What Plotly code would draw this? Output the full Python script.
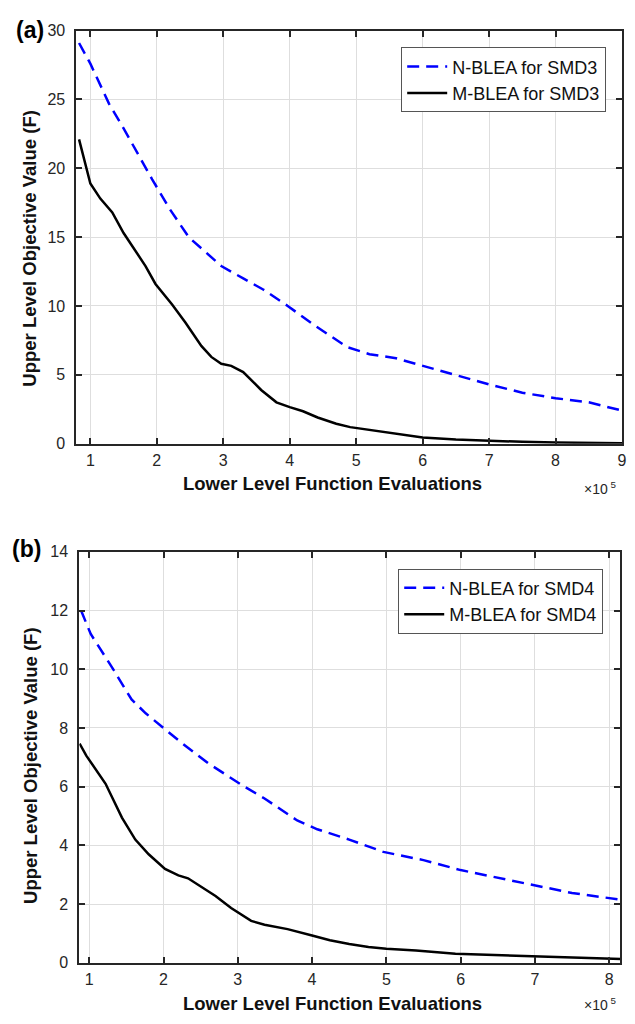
import plotly.graph_objects as go

# ---- data (x in units of 1e5 lower level function evaluations) ----
smd3_nblea_x = [0.83, 1.0, 1.28, 1.5, 1.93, 2.2, 2.48, 2.97, 3.3, 3.6, 3.97, 4.37, 4.87, 5.2, 5.6, 5.96, 6.5, 7.0, 7.5, 8.0, 8.5, 9.0]
smd3_nblea_y = [29.1, 27.6, 24.7, 22.9, 19.2, 17.0, 15.0, 12.9, 12.0, 11.2, 10.0, 8.6, 7.0, 6.5, 6.2, 5.7, 5.0, 4.3, 3.7, 3.3, 3.0, 2.4]

smd3_mblea_x = [0.83, 1.0, 1.15, 1.33, 1.5, 1.66, 1.83, 1.98, 2.23, 2.43, 2.67, 2.82, 2.97, 3.12, 3.3, 3.57, 3.8, 4.0, 4.2, 4.42, 4.7, 4.91, 5.3, 5.6, 6.0, 6.5, 7.0, 7.5, 8.0, 8.5, 9.0]
smd3_mblea_y = [22.1, 18.9, 17.8, 16.8, 15.3, 14.1, 12.9, 11.6, 10.1, 8.8, 7.1, 6.3, 5.8, 5.65, 5.2, 3.9, 3.0, 2.65, 2.35, 1.9, 1.45, 1.2, 0.95, 0.75, 0.45, 0.3, 0.2, 0.13, 0.08, 0.05, 0.03]

smd4_nblea_x = [0.89, 1.02, 1.33, 1.57, 1.76, 1.97, 2.24, 2.6, 2.91, 3.09, 3.36, 3.8, 4.07, 4.5, 4.96, 5.5, 6.0, 6.5, 6.96, 7.5, 8.16]
smd4_nblea_y = [12.0, 11.2, 9.97, 8.97, 8.5, 8.07, 7.5, 6.8, 6.3, 6.0, 5.6, 4.85, 4.55, 4.2, 3.78, 3.5, 3.16, 2.9, 2.66, 2.38, 2.15]

smd4_mblea_x = [0.87, 0.96, 1.22, 1.44, 1.62, 1.8, 2.02, 2.2, 2.33, 2.47, 2.7, 2.91, 3.18, 3.36, 3.67, 4.0, 4.24, 4.5, 4.76, 5.0, 5.4, 5.93, 6.4, 6.9, 7.5, 7.97, 8.16]
smd4_mblea_y = [7.47, 7.06, 6.1, 4.95, 4.2, 3.7, 3.2, 2.98, 2.88, 2.66, 2.28, 1.87, 1.43, 1.3, 1.15, 0.93, 0.77, 0.64, 0.54, 0.48, 0.42, 0.31, 0.27, 0.24, 0.19, 0.15, 0.13]

names_a = ["N-BLEA for SMD3", "M-BLEA for SMD3"]
names_b = ["N-BLEA for SMD4", "M-BLEA for SMD4"]
xticks_a = [1, 2, 3, 4, 5, 6, 7, 8, 9]
yticks_a = [0, 5, 10, 15, 20, 25, 30]
xticks_b = [1, 2, 3, 4, 5, 6, 7, 8]
yticks_b = [0, 2, 4, 6, 8, 10, 12, 14]
x_title = "Lower Level Function Evaluations"
y_title = "Upper Level Objective Value (F)"

W, H = 635, 1024
FONT = "Liberation Sans, Arial, Helvetica, sans-serif"
AX = "#262626"
GRID = "#DEDEDE"

def px(x):
    return x / W

def py(y):
    return 1 - y / H

fig = go.Figure()
fig.add_trace(go.Scatter(x=smd3_nblea_x, y=smd3_nblea_y, mode="lines", name=names_a[0],
                         line=dict(color="#0000FF", width=2.5, dash="12px,7px"),
                         xaxis="x", yaxis="y", legend="legend"))
fig.add_trace(go.Scatter(x=smd3_mblea_x, y=smd3_mblea_y, mode="lines", name=names_a[1],
                         line=dict(color="#000000", width=2.5),
                         xaxis="x", yaxis="y", legend="legend"))
fig.add_trace(go.Scatter(x=smd4_nblea_x, y=smd4_nblea_y, mode="lines", name=names_b[0],
                         line=dict(color="#0000FF", width=2.5, dash="12px,7px"),
                         xaxis="x2", yaxis="y2", legend="legend2"))
fig.add_trace(go.Scatter(x=smd4_mblea_x, y=smd4_mblea_y, mode="lines", name=names_b[1],
                         line=dict(color="#000000", width=2.5),
                         xaxis="x2", yaxis="y2", legend="legend2"))

def axis_style(**kw):
    d = dict(showline=True, linecolor=AX, linewidth=2, mirror="ticks",
             ticks="inside", ticklen=6, tickwidth=2, tickcolor=AX,
             showgrid=True, gridcolor=GRID, gridwidth=1, zeroline=False,
             tickfont=dict(family=FONT, size=16, color=AX))
    d.update(kw)
    return d

fig.update_layout(
    width=W, height=H,
    margin=dict(l=0, r=0, t=0, b=0),
    paper_bgcolor="white", plot_bgcolor="white",
    font=dict(family=FONT, color=AX),
    xaxis=axis_style(domain=[px(77), px(627)], range=[0.79, 9.0005], tickvals=xticks_a,
                     anchor="y", ticklabelstandoff=1),
    yaxis=axis_style(domain=[py(443), py(23)], range=[0, 30], tickvals=yticks_a,
                     anchor="x", ticklabelstandoff=6),
    xaxis2=axis_style(domain=[px(80), px(625)], range=[0.867, 8.147], tickvals=xticks_b,
                      anchor="y2", ticklabelstandoff=1),
    yaxis2=axis_style(domain=[py(971), py(553)], range=[0, 14], tickvals=yticks_b,
                      anchor="x2", ticklabelstandoff=6),
    legend=dict(x=px(611), y=py(40), xanchor="right", yanchor="top",
                bgcolor="white", bordercolor="#555555", borderwidth=1,
                font=dict(family=FONT, size=18, color="#111111"),
                tracegroupgap=0, itemwidth=40),
    legend2=dict(x=px(608), y=py(570), xanchor="right", yanchor="top",
                 bgcolor="white", bordercolor="#555555", borderwidth=1,
                 font=dict(family=FONT, size=18, color="#111111"),
                 tracegroupgap=0, itemwidth=40),
    showlegend=True,
)

ann = []
# panel labels
ann.append(dict(text="<b>(a)</b>", x=px(14), y=py(22), xref="paper", yref="paper",
                xanchor="left", yanchor="middle", showarrow=False,
                font=dict(family=FONT, size=23, color="#000000")))
ann.append(dict(text="<b>(b)</b>", x=px(10), y=py(550), xref="paper", yref="paper",
                xanchor="left", yanchor="middle", showarrow=False,
                font=dict(family=FONT, size=23, color="#000000")))
# axis titles
for yc_title, xc_title, yx in [(244, 484, 30), (770, 1012, 30)]:
    ann.append(dict(text="<b>" + y_title + "</b>", x=px(yx), y=py(yc_title), xref="paper", yref="paper",
                    xanchor="center", yanchor="middle", textangle=-90, showarrow=False,
                    font=dict(family=FONT, size=18.5, color="#111111")))
    ann.append(dict(text="<b>" + x_title + "</b>", x=px(335), y=py(xc_title), xref="paper", yref="paper",
                    xanchor="center", yanchor="middle", showarrow=False,
                    font=dict(family=FONT, size=18.5, color="#111111")))
# exponent labels
for yexp in [488, 1013]:
    ann.append(dict(text="\u00d710<sup> 5</sup>", x=px(587), y=py(yexp), xref="paper", yref="paper",
                    xanchor="left", yanchor="middle", showarrow=False,
                    font=dict(family=FONT, size=14, color=AX)))
fig.update_layout(annotations=ann)

fig.write_html("out.html", config={"displayModeBar": False},
               post_script="document.body.style.margin='0px';document.body.style.padding='0px';")
